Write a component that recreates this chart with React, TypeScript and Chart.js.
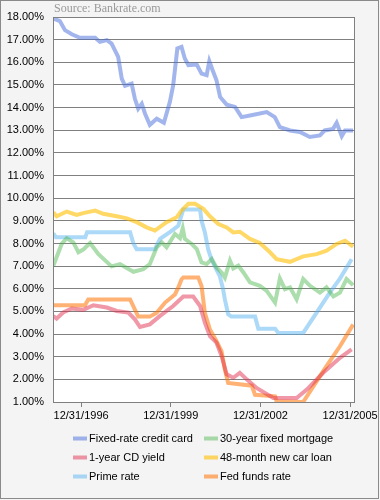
import React, { useEffect, useRef } from "react";
import { Chart, registerables } from "chart.js";

Chart.register(...registerables);

// ---- Data (decimal years, % rates) ----
const creditYears = [1996.07,1996.29,1996.46,1996.69,1996.96,1997.47,1997.63,1997.86,1998.02,1998.24,1998.36,1998.47,1998.69,1998.80,1998.91,1999.03,1999.14,1999.30,1999.53,1999.77,1999.97,2000.08,2000.22,2000.36,2000.47,2000.59,2000.87,2001.03,2001.20,2001.29,2001.40,2001.53,2001.65,2001.87,2002.15,2002.37,2002.65,2003.21,2003.48,2003.65,2003.99,2004.32,2004.65,2004.99,2005.15,2005.43,2005.55,2005.72,2005.83,2006.10];
const creditRates = [17.94,17.82,17.42,17.24,17.08,17.08,16.90,16.98,16.83,16.24,15.28,14.96,15.06,14.39,13.95,14.17,13.73,13.24,13.51,13.33,14.25,14.98,16.61,16.68,16.17,15.87,15.90,15.50,15.43,16.05,15.65,15.20,14.47,14.13,14.03,13.58,13.65,13.80,13.58,13.14,12.99,12.92,12.70,12.77,12.99,13.06,13.33,12.74,12.99,12.99];

const mortgageYears = [1996.07,1996.18,1996.35,1996.52,1996.74,1996.91,1997.07,1997.30,1997.58,1998.02,1998.30,1998.75,1999.08,1999.30,1999.53,1999.70,1999.86,2000.14,2000.31,2000.40,2000.47,2000.70,2000.87,2001.03,2001.20,2001.37,2001.53,2001.70,2001.81,2001.98,2002.09,2002.26,2002.43,2002.65,2002.98,2003.21,2003.49,2003.65,2003.82,2003.99,2004.21,2004.43,2004.66,2004.99,2005.21,2005.44,2005.66,2005.88,2006.10];
const mortgageRates = [7.02,7.39,7.98,8.23,8.05,7.61,7.73,8.02,7.53,6.99,7.09,6.75,6.87,7.09,7.83,8.05,7.83,8.42,8.23,8.67,8.20,7.98,7.75,7.16,7.09,7.31,6.94,6.72,6.49,7.24,6.90,7.02,6.72,6.28,6.13,5.91,5.39,6.45,5.98,6.06,5.54,6.43,6.13,5.83,6.06,5.66,5.83,6.43,6.16];

const cdYears = [1996.07,1996.18,1996.40,1996.69,1997.07,1997.41,1997.86,1998.19,1998.58,1998.80,1998.97,1999.30,1999.64,2000.08,2000.42,2000.75,2000.98,2001.14,2001.31,2001.53,2001.70,2001.87,2002.09,2002.31,2002.54,2002.87,2003.43,2004.21,2004.55,2005.10,2005.66,2006.05];
const cdRates = [4.80,4.68,4.95,5.13,5.07,5.27,5.17,5.02,4.95,4.65,4.31,4.43,4.80,5.24,5.66,5.66,5.24,4.50,3.91,3.62,3.03,2.22,2.07,2.29,2.00,1.62,1.18,1.18,1.55,2.29,2.95,3.32];

const carYears = [1996.07,1996.18,1996.52,1996.85,1997.07,1997.47,1997.74,1998.19,1998.53,1998.86,1999.19,1999.47,1999.86,2000.20,2000.36,2000.59,2000.81,2001.09,2001.31,2001.59,2001.87,2002.09,2002.31,2002.65,2002.98,2003.32,2003.54,2003.99,2004.43,2004.88,2005.21,2005.55,2005.83,2006.10];
const carRates = [9.38,9.20,9.41,9.26,9.34,9.45,9.31,9.20,9.11,8.94,8.71,8.57,8.94,9.16,9.45,9.75,9.75,9.53,9.20,8.86,8.71,8.49,8.52,8.20,8.02,7.61,7.31,7.19,7.43,7.53,7.68,7.98,8.12,7.86];

const primeYears = [1996.07,1996.16,1997.14,1997.20,1998.64,1998.75,1998.86,1999.47,1999.64,1999.97,2000.25,2000.42,2000.98,2001.03,2001.14,2001.25,2001.36,2001.47,2001.64,2001.75,2001.81,2001.92,2002.03,2002.82,2002.93,2003.49,2003.60,2004.43,2004.88,2005.32,2005.66,2006.05];
const primeRates = [8.45,8.27,8.27,8.50,8.50,8.00,7.75,7.75,8.20,8.50,8.78,9.50,9.50,9.00,8.50,7.75,7.30,7.00,6.56,5.98,5.53,4.87,4.77,4.77,4.23,4.23,4.05,4.05,4.95,5.83,6.45,7.30];

const fedYears = [1996.07,1997.13,1997.24,1998.64,1998.91,1999.30,1999.53,1999.81,2000.14,2000.25,2000.36,2000.42,2000.92,2001.03,2001.14,2001.31,2001.53,2001.70,2001.81,2001.92,2002.71,2002.82,2003.49,2003.54,2004.43,2004.77,2005.21,2005.66,2006.10];
const fedRates = [5.27,5.27,5.53,5.53,4.77,4.77,4.94,5.39,5.75,6.05,6.42,6.50,6.50,6.12,4.94,4.20,3.68,3.24,2.43,1.84,1.72,1.32,1.25,1.03,1.00,1.69,2.58,3.46,4.42];

const seriesNames = [
  "Fixed-rate credit card",
  "30-year fixed mortgage",
  "1-year CD yield",
  "48-month new car loan",
  "Prime rate",
  "Fed funds rate",
];
const seriesColors = [
  "rgba(70,110,220,0.5)",
  "rgba(70,180,70,0.45)",
  "rgba(225,50,80,0.5)",
  "rgba(255,190,0,0.6)",
  "rgba(90,180,240,0.5)",
  "rgba(255,115,0,0.55)",
];
const xTickYears = [1997, 2000, 2003, 2006];
const xTickLabels = ["12/31/1996", "12/31/1999", "12/31/2002", "12/31/2005"];
const sourceText = "Source: Bankrate.com";

const FONT = "'Liberation Sans', Arial, sans-serif";

function pts(xs: number[], ys: number[]) {
  return xs.map((x, i) => ({ x, y: ys[i] }));
}

const decor = {
  id: "decor",
  beforeDraw(chart: any) {
    const { ctx, chartArea: a, width, height } = chart;
    ctx.save();
    ctx.fillStyle = "#f4f4f4";
    ctx.fillRect(0, 0, width, height);
    ctx.fillStyle = "#ffffff";
    ctx.fillRect(a.left, a.top, a.right - a.left, a.bottom - a.top);
    ctx.restore();
  },
  afterDraw(chart: any) {
    const { ctx, chartArea: a } = chart;
    ctx.save();
    ctx.strokeStyle = "#808080";
    ctx.lineWidth = 1;
    ctx.strokeRect(Math.round(a.left) + 0.5, Math.round(a.top) + 0.5, Math.round(a.right - a.left), Math.round(a.bottom - a.top));
    ctx.strokeStyle = "#8a8a8a";
    ctx.strokeRect(0.5, 0.5, 378, 498);
    ctx.fillStyle = "#999999";
    ctx.font = "12px 'Liberation Serif', 'Times New Roman', serif";
    ctx.textBaseline = "middle";
    ctx.textAlign = "left";
    ctx.fillText(sourceText, 54, 8.5);
    const colX = [73, 204];
    const rowY = [438.5, 457.5, 476.5];
    ctx.font = "11px " + FONT;
    chart.data.datasets.forEach((ds: any, i: number) => {
      const x = colX[i % 2];
      const y = rowY[Math.floor(i / 2)];
      ctx.strokeStyle = ds.borderColor;
      ctx.lineWidth = 4;
      ctx.beginPath();
      ctx.moveTo(x, y);
      ctx.lineTo(x + 14, y);
      ctx.stroke();
      ctx.fillStyle = "#000";
      ctx.fillText(ds.label, x + 16, y);
    });
    ctx.restore();
  },
};

export default function App() {
  const ref = useRef<HTMLCanvasElement | null>(null);
  useEffect(() => {
    if (!ref.current) return;
    const allX = [creditYears, mortgageYears, cdYears, carYears, primeYears, fedYears];
    const allY = [creditRates, mortgageRates, cdRates, carRates, primeRates, fedRates];
    const chart = new Chart(ref.current, {
      type: "line",
      data: {
        datasets: seriesNames.map((name, i) => ({
          label: name,
          data: pts(allX[i], allY[i]),
          borderColor: seriesColors[i],
          backgroundColor: seriesColors[i],
          borderWidth: 4,
          pointRadius: 0,
          tension: 0,
          fill: false,
        })),
      },
      options: {
        animation: false,
        responsive: true,
        maintainAspectRatio: false,
        layout: { padding: { top: 17, right: 26, left: 0, bottom: 0 } },
        plugins: { legend: { display: false }, tooltip: { enabled: false } },
        scales: {
          x: {
            type: "linear",
            min: 1996.06,
            max: 2006.13,
            afterBuildTicks: (scale: any) => {
              scale.ticks = xTickYears.map((v) => ({ value: v }));
            },
            afterFit: (scale: any) => {
              scale.height = 98;
              scale.paddingLeft = 0;
              scale.paddingRight = 0;
            },
            ticks: {
              autoSkip: false,
              maxRotation: 0,
              minRotation: 0,
              padding: 2,
              color: "#000",
              font: { family: FONT, size: 11 },
              callback: (v: any) => {
                const idx = xTickYears.indexOf(Number(v));
                return idx >= 0 ? xTickLabels[idx] : "";
              },
            },
            grid: { drawOnChartArea: false, drawTicks: true, tickLength: 5, color: "#808080" },
            border: { display: false },
          },
          y: {
            min: 1,
            max: 18,
            afterFit: (scale: any) => {
              scale.width = 53;
            },
            ticks: {
              stepSize: 1,
              padding: 9,
              color: "#000",
              font: { family: FONT, size: 11 },
              callback: (v: any) => Number(v).toFixed(2) + "%",
            },
            grid: { drawTicks: false, color: "#808080" },
            border: { display: false },
          },
        },
      },
      plugins: [decor],
    });
    return () => chart.destroy();
  }, []);
  return (
    <div style={{ position: "absolute", left: 0, top: 0, width: 380, height: 500 }}>
      <canvas ref={ref} />
    </div>
  );
}
